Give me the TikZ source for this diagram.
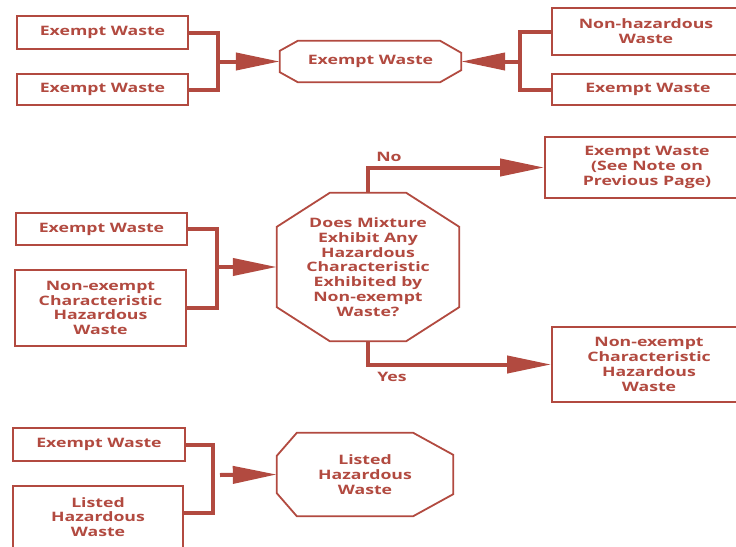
\documentclass[tikz,border=0pt]{standalone}
\usepackage{fontspec}
\setmainfont{Open Sans}[FakeStretch=1.36]
\usetikzlibrary{arrows.meta}
\definecolor{wred}{RGB}{178,74,64}
\newcommand{\octagonoutline}[5]{%
  \draw[octline] ([xshift=#2pt]#1.north west) -- ([xshift=-#4pt]#1.north east)
    -- ([yshift=-#5pt]#1.north east) -- ([yshift=#5pt]#1.south east)
    -- ([xshift=-#4pt]#1.south east) -- ([xshift=#2pt]#1.south west)
    -- ([yshift=#3pt]#1.south west) -- ([yshift=-#3pt]#1.north west) -- cycle;}
\tikzset{
  txt/.style={text=wred, font=\bfseries\fontsize{13}{14.8}\selectfont, align=center, inner sep=0pt},
  box/.style={txt, draw=wred, line width=1.8pt},
  octnode/.style={txt, rectangle},
  octline/.style={draw=wred, line width=1.8pt, line join=miter},
  brk/.style={draw=wred, line width=4pt, line join=miter},
  arr/.style={brk, -{Triangle[length=44pt,width=17pt]}},
}
\begin{document}
\begin{tikzpicture}[x=1pt,y=-1pt]
\path[use as bounding box, fill=white] (0,0) rectangle (736,546);
\clip (0,0) rectangle (736,546);
% top row
\node[box, minimum width=171pt, minimum height=33pt] (a1) at (102.5,32.5) {Exempt Waste};
\node[box, minimum width=171pt, minimum height=31pt] (a2) at (102.5,89.5) {Exempt Waste};
\node[octnode, minimum width=181pt, minimum height=41pt] (o1) at (370.5,61.5) {Exempt Waste};
\octagonoutline{o1}{18}{10}{21}{12}
\node[box, minimum width=188pt, minimum height=47pt] (b1) at (646,31.5) {Non-hazardous\\Waste};
\node[box, minimum width=192pt, minimum height=31pt] (b2) at (648,89.5) {Exempt Waste};
\coordinate (j1) at (218,61.5);
\coordinate (j2) at (520,61.5);
\draw[brk] (a1.east) -| (j1) |- (a2.east);
\draw[arr] (j1) -- (o1.west);
\draw[brk] (b1.west) -| (j2) |- (b2.west);
\draw[arr] (j2) -- (o1.east);
% middle row
\node[box, minimum width=171pt, minimum height=32pt] (c1) at (101.5,229) {Exempt Waste};
\node[box, minimum width=171pt, minimum height=76pt] (c2) at (100.5,308) {Non-exempt\\Characteristic\\Hazardous\\Waste};
\node[octnode, minimum width=182pt, minimum height=148pt] (o2) at (368,267) {Does Mixture\\Exhibit Any\\Hazardous\\Characteristic\\Exhibited by\\Non-exempt\\Waste?};
\octagonoutline{o2}{53}{34}{53}{34}
\node[box, minimum width=204pt, minimum height=61pt] (d) at (647,167.5) {Exempt Waste\\(See Note on\\Previous Page)};
\node[box, minimum width=194pt, minimum height=75pt] (e) at (649,364.5) {Non-exempt\\Characteristic\\Hazardous\\Waste};
\coordinate (j3) at (217,267);
\draw[brk] (c1.east) -| (j3) |- (c2.east);
\draw[arr] (j3) -- (o2.west);
\draw[arr] (o2.north) |- (d.west);
\draw[arr] (o2.south) |- (e.west);
\node[txt] (no) at (389,157) {No};
\node[txt] (yes) at (392,377) {Yes};
% bottom row
\node[box, minimum width=172pt, minimum height=33pt] (f1) at (99,444.5) {Exempt Waste};
\node[box, minimum width=170pt, minimum height=62pt] (f2) at (98,517) {Listed\\Hazardous\\Waste};
\node[octnode, minimum width=176pt, minimum height=83pt] (o3) at (365,474.5) {Listed\\Hazardous\\Waste};
\octagonoutline{o3}{20}{23}{40}{22}
\coordinate (j4) at (213,475);
\draw[brk] (f1.east) -| (j4) |- ([yshift=4pt]f2.east);
\draw[arr] ([xshift=7pt]j4) -- (o3.west);
\end{tikzpicture}
\end{document}
